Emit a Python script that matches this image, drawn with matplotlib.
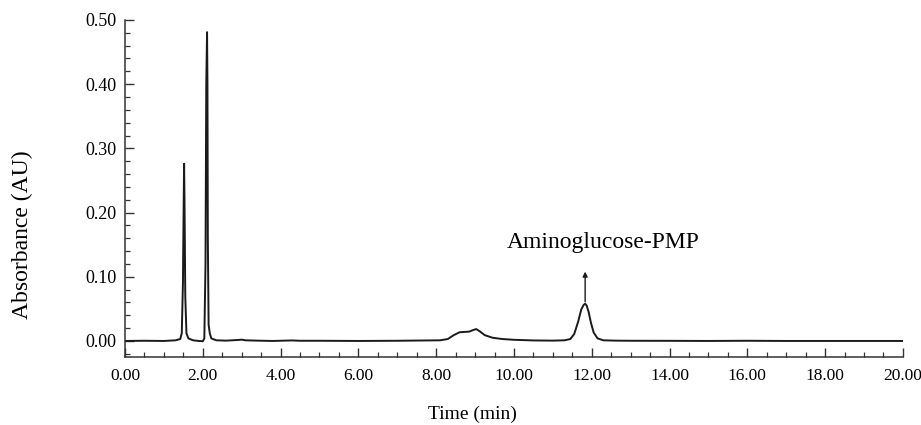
import matplotlib
matplotlib.use("Agg")
import matplotlib.pyplot as plt
from matplotlib.ticker import MultipleLocator, FormatStrFormatter

plt.rcParams["font.family"] = ["Liberation Serif", "DejaVu Serif"]

# chromatogram points (time in min, absorbance in AU)
time_min = [
    0.0, 0.5, 1.0, 1.3, 1.42, 1.46, 1.49, 1.51, 1.52, 1.53, 1.55, 1.58, 1.63,
    1.75, 1.9, 2.0, 2.04, 2.07, 2.09, 2.11, 2.12, 2.13, 2.15, 2.18, 2.22, 2.35,
    2.6, 2.9, 3.0, 3.1, 3.4, 3.8, 4.3, 4.5, 5.0, 6.0, 7.0, 7.8, 8.1, 8.3, 8.45,
    8.6, 8.7, 8.85, 8.95, 9.03, 9.12, 9.25, 9.45, 9.7, 10.0, 10.5, 11.0, 11.3,
    11.45, 11.55, 11.65, 11.73, 11.79, 11.83, 11.87, 11.92, 11.98, 12.05,
    12.15, 12.3, 12.6, 13.0, 14.0, 15.0, 16.0, 17.0, 18.0, 19.0, 20.0,
]
absorbance = [
    0.0, 0.0003, 0.0, 0.001, 0.003, 0.012, 0.09, 0.22, 0.276, 0.22, 0.07,
    0.012, 0.004, 0.001, 0.0, -0.0005, 0.004, 0.12, 0.40, 0.481, 0.40, 0.16,
    0.025, 0.012, 0.004, 0.001, 0.0005, 0.0015, 0.002, 0.001, 0.0005, 0.0,
    0.0008, 0.0003, 0.0003, 0.0, 0.0003, 0.0008, 0.001, 0.003, 0.009, 0.0135,
    0.014, 0.0145, 0.017, 0.0185, 0.015, 0.009, 0.005, 0.003, 0.0018, 0.0008,
    0.0005, 0.001, 0.003, 0.011, 0.030, 0.049, 0.056, 0.058, 0.055, 0.045,
    0.028, 0.013, 0.004, 0.001, 0.0005, 0.0003, 0.0002, 0.0, 0.0003, 0.0,
    0.0, 0.0, 0.0,
]

peak_label = "Aminoglucose-PMP"
peak_time = 11.83

fig = plt.figure(figsize=(9.21, 4.25), dpi=100)
ax = fig.add_axes([0.1357, 0.16, 0.8447, 0.793])

ax.plot(time_min, absorbance, color="#1a1a1a", linewidth=1.4)

ax.set_xlim(0, 20)
ax.set_ylim(-0.025, 0.5)
ax.xaxis.set_major_locator(MultipleLocator(2))
ax.xaxis.set_minor_locator(MultipleLocator(0.5))
ax.yaxis.set_major_locator(MultipleLocator(0.1))
ax.yaxis.set_minor_locator(MultipleLocator(0.02))
ax.xaxis.set_major_formatter(FormatStrFormatter("%.2f"))
ax.yaxis.set_major_formatter(FormatStrFormatter("%.2f"))

ax.spines["top"].set_visible(False)
ax.spines["right"].set_visible(False)
for s in ["left", "bottom"]:
    ax.spines[s].set_color("#333333")
    ax.spines[s].set_linewidth(1.1)

ax.tick_params(which="major", direction="in", length=6.5, width=1.0,
               color="#333333", labelsize=13, pad=8)
ax.tick_params(which="minor", direction="in", length=3.5, width=0.9,
               color="#333333")
ax.tick_params(axis="x", labelsize=12.5)
ax.tick_params(axis="y", pad=6)

ax.set_xlabel("Time (min)", fontsize=14)
ax.xaxis.set_label_coords(0.447, -0.145)
ax.set_ylabel("Absorbance (AU)", fontsize=17)
ax.yaxis.set_label_coords(-0.118, 0.362)

ax.annotate("", xy=(peak_time, 0.108), xytext=(peak_time, 0.061),
            arrowprops=dict(arrowstyle="-|>", color="#1a1a1a", lw=1.0,
                            mutation_scale=7, shrinkA=0, shrinkB=0))
ax.text(12.3, 0.154, peak_label, fontsize=17, ha="center", va="center")

fig.savefig("out.png", dpi=100)
